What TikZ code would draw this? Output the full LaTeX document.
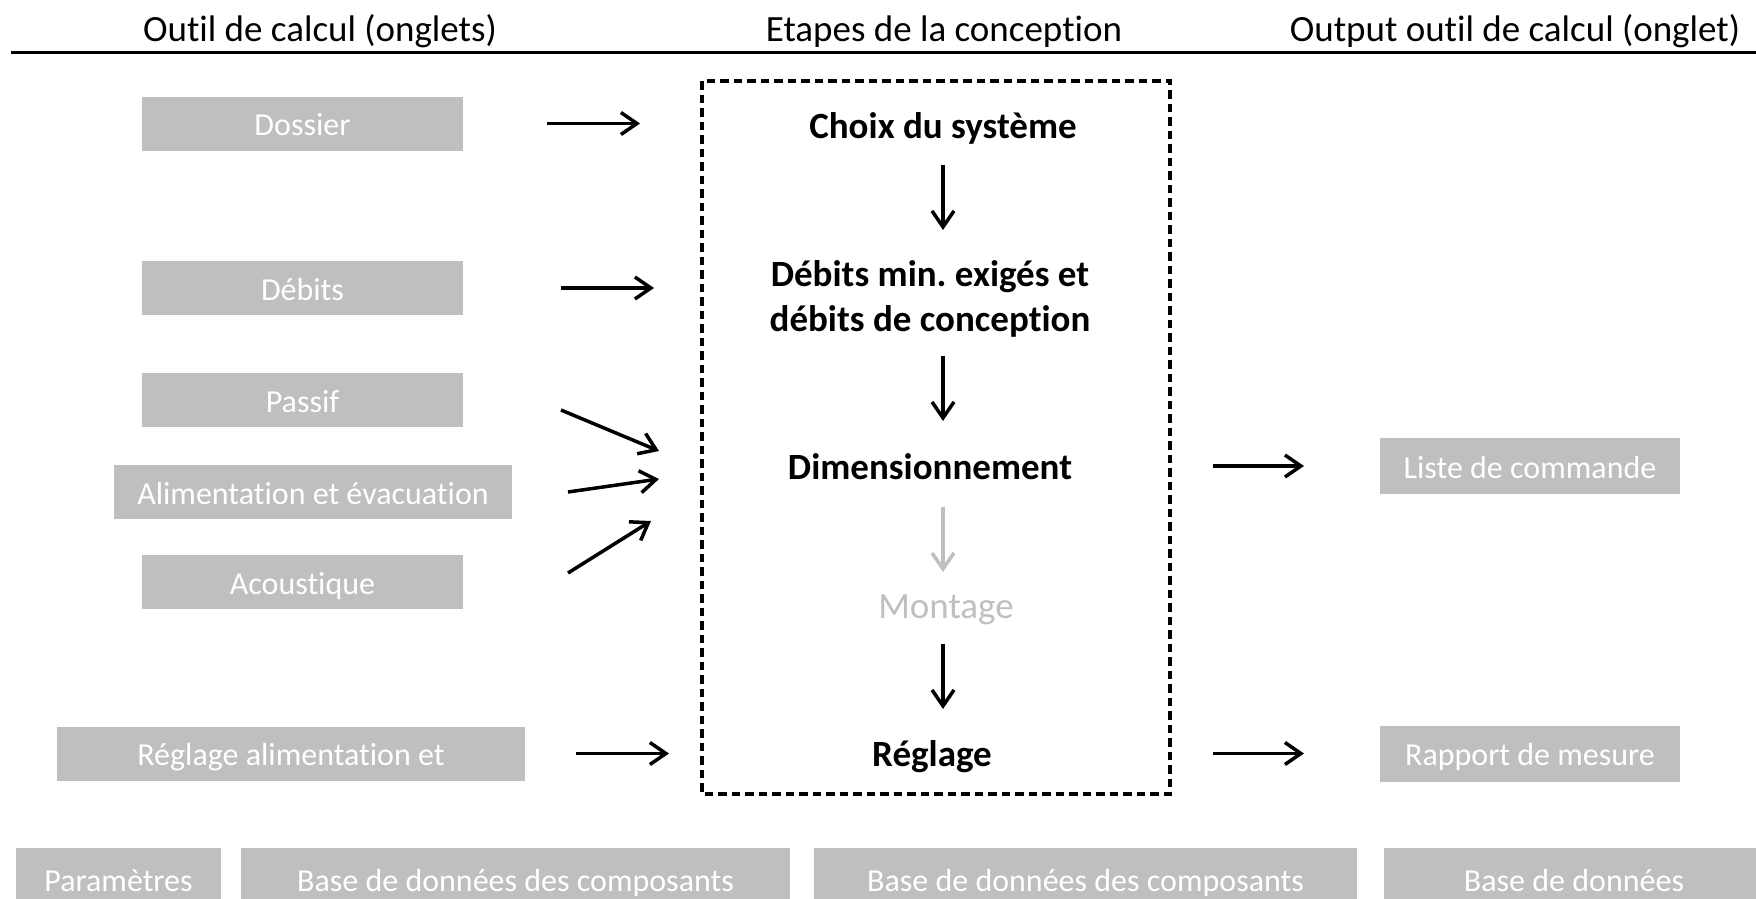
\documentclass[tikz,border=0pt]{standalone}
\usepackage{fontspec}
\setmainfont{Carlito}[Ligatures=NoCommon]
\usetikzlibrary{arrows.meta}
\definecolor{tabgray}{HTML}{BFBFBF}
\frenchspacing

\begin{document}
\begin{tikzpicture}[x=1pt,y=-1pt,
    tab/.style={fill=tabgray,text=white,font=\fontsize{32}{38}\selectfont,minimum height=54pt,inner sep=0pt,text height=24pt,text depth=0pt},
    stage/.style={font=\fontsize{37}{45}\selectfont\bfseries,align=center,inner sep=0pt},
    head/.style={font=\fontsize{37}{44}\selectfont,inner sep=0pt},
    arr/.style={line width=3.5pt,-{Straight Barb[length=16pt,width=22pt]}}]
        \useasboundingbox (0,0) rectangle (1756,899);
        \clip (0,0) rectangle (1756,899);
        \node[head] (h1) at (320,31.5) {Outil de calcul (onglets)};
        \node[head] (h2) at (944,31.5) {Etapes de la conception};
        \node[head] (h3) at (1515,31.5) {Output outil de calcul (onglet)};
        \draw[line width=3pt] (11,52.5) to (1756,52.5);
        \node[tab,minimum width=321pt] (dossier) at (302.5,123.5) {Dossier};
        \node[tab,minimum width=321pt] (debits) at (302.5,288) {Débits};
        \node[tab,minimum width=321pt] (passif) at (302.5,400) {Passif};
        \node[tab,minimum width=398pt] (alim) at (313,492) {Alimentation et évacuation};
        \node[tab,minimum width=321pt] (acoustique) at (302.5,582) {Acoustique};
        \node[tab,minimum width=468pt] (reglagetab) at (291,753.5) {Réglage alimentation et};
        \node[tab,minimum width=300pt,minimum height=56pt] (liste) at (1530,466) {Liste de commande};
        \node[tab,minimum width=300pt,minimum height=56pt] (rapport) at (1530,753.5) {Rapport de mesure};
        \node[tab,minimum width=205pt,minimum height=62pt] (param) at (118.5,879) {Paramètres};
        \node[tab,minimum width=549pt,minimum height=62pt] (bddA) at (515.5,879) {Base de données des composants};
        \node[tab,minimum width=543pt,minimum height=62pt] (bddB) at (1085.5,879) {Base de données des composants};
        \node[tab,minimum width=380pt,minimum height=62pt] (bdd) at (1574,879) {Base de données};
        \draw[line width=3.5pt,dash pattern=on 8.5pt off 5pt] (702,81) rectangle (1170,794);
        \node[stage] (choix) at (943,128) {Choix du système};
        \node[stage] (debconc) at (930,299) {Débits min. exigés et\\débits de conception};
        \node[stage] (dim) at (930,467) {Dimensionnement};
        \node[stage,font=\fontsize{37}{45}\selectfont,text=tabgray] (montage) at (946,610) {Montage};
        \node[stage] (reglage) at (932,756.5) {Réglage};
        \draw[arr,shorten <=37pt,shorten >=69pt] (choix.center) to (debconc.center -| choix.center);
        \draw[arr,shorten <=57pt,shorten >=46pt] (debconc.center -| choix.center) to (dim.center -| choix.center);
        \draw[arr,tabgray,shorten <=40pt,shorten >=38pt] (dim.center -| choix.center) to (montage.center -| choix.center);
        \draw[arr,shorten <=34pt,shorten >=47.5pt] (montage.center -| choix.center) to (reglage.center -| choix.center);
        \draw[arr,shorten <=244.5pt,shorten >=303pt] (dossier.center) to (choix.center |- dossier.center);
        \coordinate (inDebits) at (654,288);
        \draw[arr,shorten <=258.5pt] (debits.center) to (inDebits);
        \coordinate (outPassif) at (561,410);
        \coordinate (inPassif) at (659,451);
        \draw[arr] (outPassif) to (inPassif);
        \coordinate (outAlim) at (568,492);
        \coordinate (inAlim) at (659,479);
        \draw[arr] (outAlim) to (inAlim);
        \coordinate (outAcou) at (568,573);
        \coordinate (inAcou) at (651,521);
        \draw[arr] (outAcou) to (inAcou);
        \draw[arr,shorten <=285pt,shorten >=274pt] (reglagetab.center) to (reglagetab.center -| choix.center);
        \draw[arr,shorten <=270pt,shorten >=226pt] (liste.center -| choix.center) to (liste.center);
        \draw[arr,shorten <=270pt,shorten >=226pt] (rapport.center -| choix.center) to (rapport.center);
      \end{tikzpicture}
\end{document}
